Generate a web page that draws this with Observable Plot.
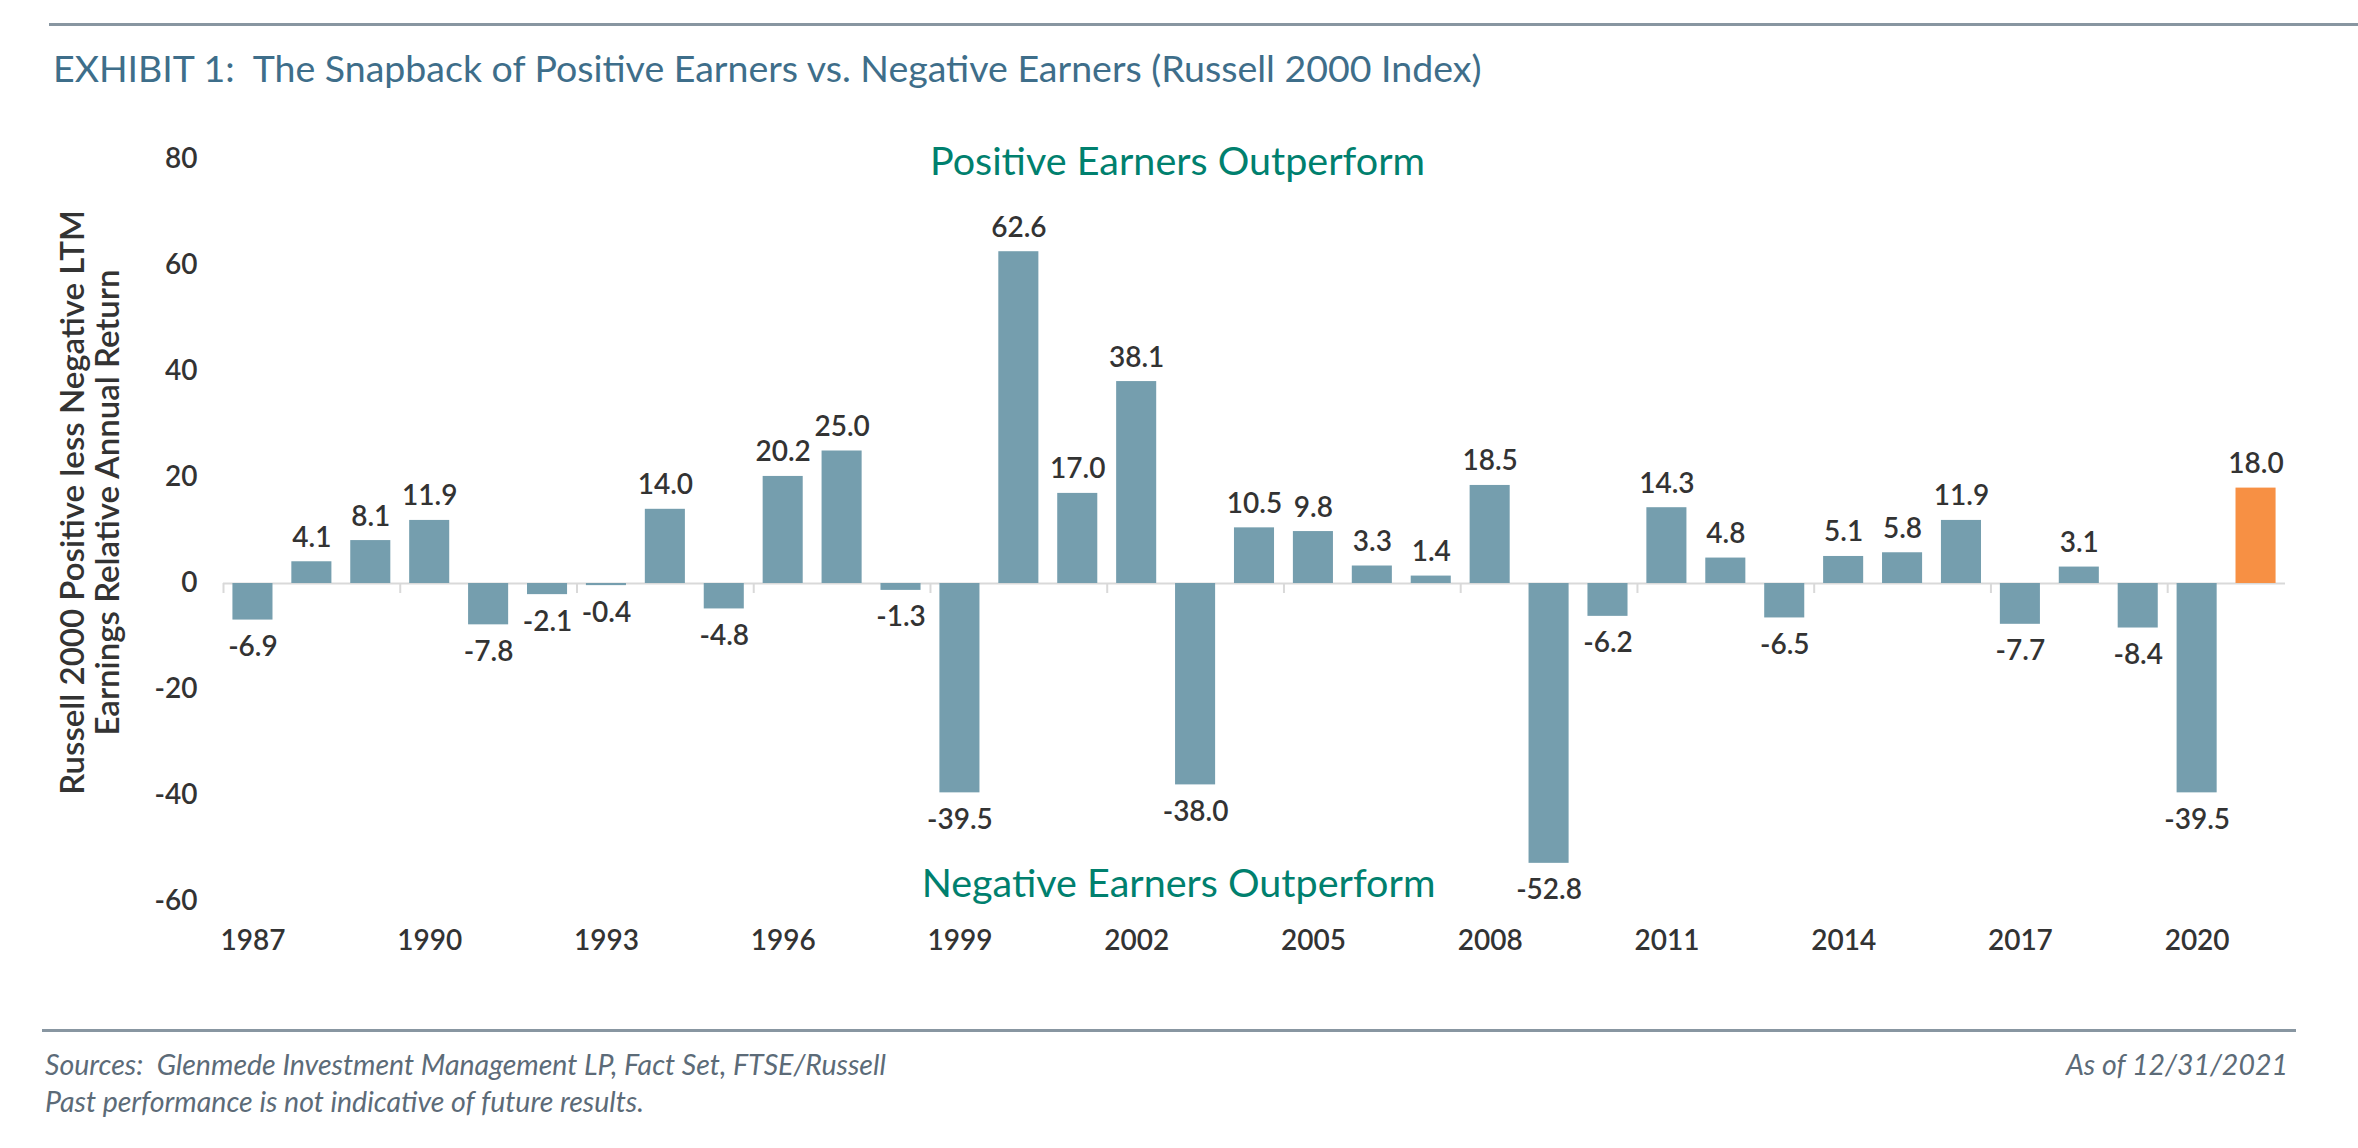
<!DOCTYPE html>
<html>
<head>
<meta charset="utf-8">
<script src="https://cdn.jsdelivr.net/npm/d3@7"></script>
<script src="https://cdn.jsdelivr.net/npm/@observablehq/plot@0.6"></script>
<style>
  body { margin: 0; background: #fff; }
  #page { position: relative; width: 2358px; height: 1148px; overflow: hidden; font-family: Lato, "Open Sans", sans-serif; background: #fff; }
  .hrule { position: absolute; height: 3px; background: #8896a1; }
  #title { position: absolute; left: 53px; top: 49px; font-size: 37.5px; line-height: 37.5px; color: #3e6e8a; white-space: pre; }
  #chart { position: absolute; left: 0; top: 100px; }
  .foot { position: absolute; font-size: 28.5px; line-height: 28.5px; font-style: italic; color: #5c6b78; white-space: pre; }
</style>
</head>
<body>
<div id="page">
  <div class="hrule" style="left:49px; right:0; top:23px;"></div>
  <div id="title">EXHIBIT 1:  The Snapback of Positive Earners vs. Negative Earners (Russell 2000 Index)</div>
  <div id="chart"></div>
  <div class="hrule" style="left:42px; width:2254px; top:1029px;"></div>
  <div class="foot" style="left:45px; top:1050px;">Sources:  Glenmede Investment Management LP, Fact Set, FTSE/Russell</div>
  <div class="foot" style="left:45px; top:1087px;">Past performance is not indicative of future results.</div>
  <div class="foot" style="right:70px; top:1050px;">As of 12/31/2021</div>
</div>
<script>
// ---- data ----
const years = [1987, 1988, 1989, 1990, 1991, 1992, 1993, 1994, 1995, 1996, 1997, 1998, 1999, 2000, 2001, 2002, 2003, 2004, 2005, 2006, 2007, 2008, 2009, 2010, 2011, 2012, 2013, 2014, 2015, 2016, 2017, 2018, 2019, 2020, 2021];
const values = [-6.9, 4.1, 8.1, 11.9, -7.8, -2.1, -0.4, 14.0, -4.8, 20.2, 25.0, -1.3, -39.5, 62.6, 17.0, 38.1, -38.0, 10.5, 9.8, 3.3, 1.4, 18.5, -52.8, -6.2, 14.3, 4.8, -6.5, 5.1, 5.8, 11.9, -7.7, 3.1, -8.4, -39.5, 18.0];
const tickYears = [1987, 1990, 1993, 1996, 1999, 2002, 2005, 2008, 2011, 2014, 2017, 2020];
const yTicks = [-60, -40, -20, 0, 20, 40, 60, 80];
const highlightYear = 2021;
const yLabel = "Russell 2000 Positive less Negative LTM\nEarnings Relative Annual Return";
const topNote = "Positive Earners Outperform";
const bottomNote = "Negative Earners Outperform";

const data = years.map((year, i) => ({year, value: values[i]}));

// ---- layout / style ----
const W = 2358, H = 880, ML = 223, MR = 73, MT = 59, MB = 79;
const step = (W - ML - MR) / years.length;
const blue = "#759eae", orange = "#f79044", teal = "#00806e", ink = "#333333", grid = "#d9d9d9";

const chart = Plot.plot({
  width: W, height: H,
  marginLeft: ML, marginRight: MR, marginTop: MT, marginBottom: MB,
  style: { fontFamily: "Lato, sans-serif", fontSize: "28px", color: ink, background: "transparent", overflow: "visible" },
  x: { type: "band", domain: years, paddingInner: 0.32, paddingOuter: 0.16, label: null },
  y: { domain: [-60, 80], label: null },
  marks: [
    Plot.ruleY([0], { stroke: grid, strokeWidth: 2 }),
    Plot.ruleX(tickYears, { x: d => d, y1: () => 0, y2: () => 0, insetBottom: -10, dx: -step / 2, stroke: grid, strokeWidth: 2 }),
    Plot.barY(data, { x: "year", y: "value", fill: d => d.year === highlightYear ? orange : blue }),
    Plot.text(data, { filter: d => d.value >= 0, x: "year", y: "value", text: d => d.value.toFixed(1), dy: -24, fontSize: 28, fontWeight: 600, fill: ink }),
    Plot.text(data, { filter: d => d.value < 0, x: "year", y: "value", text: d => d.value.toFixed(1), dy: 27, fontSize: 28, fontWeight: 600, fill: ink }),
    Plot.axisX(tickYears, { tickSize: 0, tickPadding: 29, tickFormat: d => String(d), fontSize: 28, fontWeight: 600, fill: ink, label: null }),
    Plot.axisY(yTicks, { tickSize: 0, tickPadding: 26, tickFormat: d => String(d), fontSize: 28, fontWeight: 600, fill: ink, label: null }),
    Plot.text([yLabel], { frameAnchor: "left", text: d => d, rotate: -90, dx: -133, dy: -28, fontSize: 33, fontWeight: 600, lineHeight: 1.05, textAnchor: "middle", lineAnchor: "middle", fill: "#333333" }),
    Plot.text([topNote], { frameAnchor: "top", text: d => d, dx: -77, dy: 3, fontSize: 39.5, lineAnchor: "middle", fill: teal }),
    Plot.text([bottomNote], { frameAnchor: "bottom", text: d => d, dx: -76, dy: -17, fontSize: 39.5, lineAnchor: "middle", fill: teal })
  ]
});
document.getElementById("chart").appendChild(chart);
</script>
</body>
</html>
